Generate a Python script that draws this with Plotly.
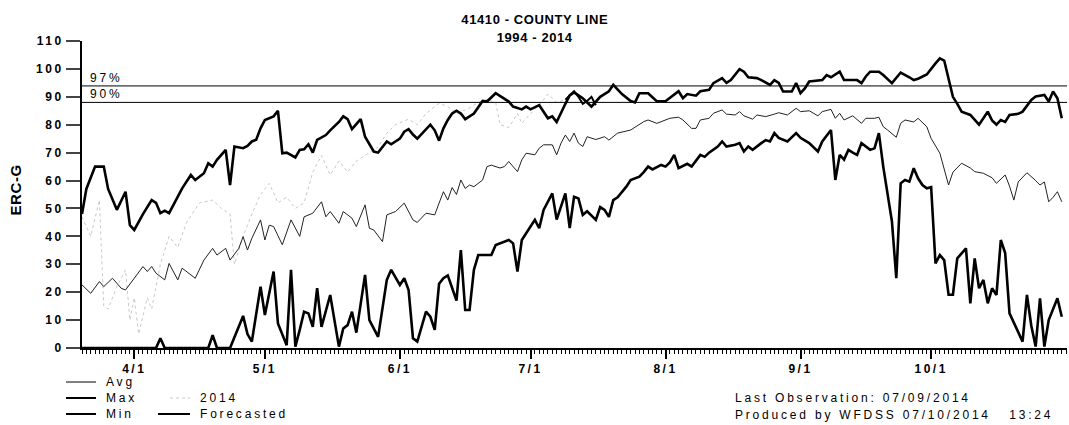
import pandas as pd
import plotly.graph_objects as go

# ---------------- data (day offsets relative to 2014-04-01) ----------------
base_date = "2014-04-01"

max_day = [-12, -11, -9, -7, -6, -4, -2, -1, 0, 2, 4, 5, 6, 7, 8, 11, 13, 14, 16, 17, 18, 19, 21, 22, 23,
           25, 26, 27, 28, 29, 30, 32, 33, 34, 35, 37, 38, 39, 40, 41, 42, 44, 45, 47, 48, 49, 50, 52, 53,
           55, 56, 58, 59, 61, 62, 63, 64, 65, 68, 69, 70, 71, 72, 73, 74, 75, 76, 78, 80, 81, 83, 84, 86,
           87, 89, 90, 91, 93, 94, 95, 96, 97, 99, 100, 101, 103, 105, 107, 109, 110, 112, 114, 115, 116,
           118, 120, 122, 124, 125, 126, 127, 129, 130, 132, 133, 135, 136, 137, 139, 140, 141, 143, 144,
           146, 147, 148, 149, 151, 152, 153, 154, 155, 158, 159, 160, 162, 163, 166, 167, 168, 169, 171,
           172, 174, 176, 178, 179, 180, 182, 184, 185, 186, 187, 188, 189, 190, 192, 194, 195, 196, 197,
           198, 199, 200, 201, 203, 204, 206, 207, 209, 210, 211, 212, 213]
max_val = [48, 57, 65, 65, 57, 49.5, 56, 44, 42.3, 48, 53, 52, 48.3, 49.2, 48.3, 57.2, 62, 60.2, 62.6, 66.2,
           65, 67.4, 71, 58.4, 72.2, 71.6, 72.4, 74, 74.6, 78.7, 81.7, 83, 85, 69.8, 70, 68.3, 71, 71.2, 73,
           70, 74.6, 76.3, 78, 81, 83, 82, 78.4, 82, 75.7, 70.4, 70, 74, 73, 75, 77.5, 78.4, 76.5, 75, 80, 78,
           74.3, 78.7, 81.7, 84, 85, 84, 82, 84, 88.5, 88.3, 91.3, 90.4, 88.3, 86.5, 85.5, 86.5, 85.5, 87,
           84.5, 82.3, 83, 81, 87.5, 90.5, 91.6, 89.5, 86.5, 90, 92, 94.3, 91, 88.5, 88, 91.3, 91.3, 88.4,
           88.4, 91, 92, 89.5, 91, 90.4, 92, 92.5, 94.9, 96.7, 95, 96, 99.9, 99, 97, 96.7, 96, 94.3, 96, 95,
           91.9, 91.9, 94.9, 91.3, 93, 95.5, 96, 97.8, 97, 99, 96, 96, 94.9, 97.3, 99, 99, 97.8, 94.9, 98.7,
           97, 96, 96.5, 98, 102, 103.8, 103, 96, 90, 87.5, 84.7, 83.5, 80, 82.3, 84.7, 81.5, 80, 81.7, 81,
           83.5, 83.9, 84.7, 88.9, 90.1, 90.7, 88.3, 91.9, 89.5, 82.3]

avg_day = [-12, -10, -8, -7, -5, -3, -2, 0, 2, 3, 4, 5, 7, 8, 10, 11, 14, 16, 18, 19, 21, 22, 24, 25, 26,
           27, 29, 30, 31, 32, 34, 36, 38, 39, 41, 43, 44, 45, 47, 48, 50, 51, 53, 54, 55, 57, 58, 60, 62,
           64, 65, 67, 69, 70, 71, 72, 73, 74, 75, 76, 77, 78, 80, 81, 82, 84, 85, 86, 88, 89, 90, 92, 93,
           94, 96, 97, 98, 99, 100, 101, 102, 103, 104, 106, 108, 109, 111, 114, 115, 117, 118, 120, 123,
           125, 126, 128, 129, 130, 132, 133, 135, 136, 138, 139, 140, 142, 143, 145, 147, 148, 150, 152,
           153, 155, 157, 158, 160, 161, 162, 163, 165, 167, 168, 170, 171, 172, 173, 175, 176, 177, 179,
           180, 182, 183, 185, 186, 187, 188, 190, 192, 193, 195, 197, 198, 200, 201, 202, 203, 205, 207,
           208, 209, 210, 211, 212, 213]
avg_val = [22.6, 19.6, 23.8, 22, 25, 21.4, 20.8, 25, 29.2, 27.4, 29.2, 26.8, 24.4, 30.3, 24.4, 28.6, 25,
           31.5, 35.7, 33.3, 35.7, 31.5, 35.7, 39.9, 35.1, 39.3, 45.9, 38.7, 44, 43.5, 37, 45.9, 40, 47,
           48.3, 52.4, 47, 48.9, 44.7, 48.9, 46.5, 43.5, 51.3, 42.9, 42.3, 38.1, 47.7, 48.9, 51.9, 45.9, 45,
           48.3, 47.7, 51.9, 56, 53, 57.5, 55, 60.2, 57.2, 58.4, 57.8, 60.2, 65, 65.5, 64.5, 65, 66.8, 63.2,
           67.4, 69.8, 69.2, 71.6, 72.8, 72.8, 69.2, 73.4, 76.3, 74, 77, 73.4, 72.2, 75.7, 74.7, 75.7, 74.5,
           77, 78.1, 79.2, 81.1, 81.7, 80.5, 82.3, 82.7, 81.7, 78.7, 78.7, 81.7, 82.3, 84.1, 85.3, 83.8, 83.5,
           84.7, 83.2, 82, 83.5, 82.9, 83.8, 84.3, 83.5, 85.9, 84.7, 85, 83.2, 84.7, 85.5, 82.3, 84.1, 81.7,
           83.2, 80.5, 82.3, 82.3, 82.7, 79.3, 78.1, 75.5, 80.5, 81.7, 81, 82.3, 79.3, 75.1, 69.8, 63.8,
           58.4, 63, 66.2, 64.5, 63.2, 62.6, 61, 59, 62, 58, 53, 59.5, 62.8, 60, 58.4, 59.5, 52.4, 54, 56, 52.4]

min_day = [-12, 5, 6, 7, 17, 18, 19, 22, 25, 26, 27, 28, 29, 30, 32, 33, 35, 36, 37, 38, 39, 40, 41, 42, 43,
           45, 47, 48, 49, 50, 51, 53, 54, 56, 58, 59, 61, 62, 63, 64, 65, 67, 68, 69, 70, 71, 72, 74, 75, 76,
           77, 78, 79, 82, 83, 86, 87, 88, 89, 90, 92, 93, 94, 96, 97, 99, 100, 101, 102, 103, 104, 106, 107,
           108, 109, 110, 111, 113, 114, 116, 117, 118, 119, 121, 122, 123, 124, 125, 127, 128, 130, 131,
           132, 134, 135, 136, 138, 139, 140, 141, 142, 144, 145, 146, 147, 148, 150, 152, 153, 155, 157,
           158, 160, 161, 162, 163, 164, 165, 166, 167, 169, 170, 171, 172, 174, 175, 176, 177, 178, 179,
           180, 181, 182, 183, 184, 185, 186, 187, 188, 189, 191, 192, 193, 194, 195, 196, 197, 198, 199,
           200, 201, 204, 205, 206, 207, 208, 209, 210, 212, 213]
min_val = [0, 0, 3.5, 0, 0, 4.6, 0, 0, 11.5, 5, 2.3, 12.4, 22, 11.8, 27.4, 8.8, 1, 28, 0.5, 6.5, 13, 12.4,
           7.6, 21.4, 7.6, 19, 0.5, 7, 8.2, 13, 5.5, 26.2, 10, 4, 24.4, 28, 22.6, 25, 20.8, 3.5, 2.3, 13, 11.2,
           6.5, 23, 25, 26, 17, 35.1, 13.6, 13.6, 28, 33.3, 33.3, 36.9, 38.7, 37.5, 27.4, 38.7, 41.1, 45.9,
           42.9, 49.5, 55.4, 46, 55.4, 43, 54.2, 53.6, 47.7, 49, 45.9, 50.5, 49.5, 47, 53, 54, 57.8, 60.2,
           61.4, 63, 65, 64, 65.6, 65, 66.5, 69.2, 64.4, 66, 65, 69.2, 68.5, 70, 72.2, 74, 72.2, 72.8, 73.4,
           70.4, 72.2, 71, 73.4, 74.5, 74, 77, 75.3, 74, 77, 75.3, 73.4, 70.4, 74, 78.1, 60.2, 69.2, 67.5, 71,
           70, 69.2, 73.4, 71, 71.6, 77, 65, 45.3, 25, 59, 60.2, 59.6, 64.4, 60.8, 58.4, 57.2, 57.6, 30.3,
           33.3, 31.5, 19.1, 19.1, 32.1, 35.7, 16, 32.1, 21.4, 24.4, 16, 21.4, 19, 38.7, 34, 12.4, 2.3, 19, 8,
           0.5, 17.8, 0.5, 10, 17.8, 11.2]

y2014_day = [-12, -10, -8, -7, -6, -4, -2, -1, 0, 1, 3, 4, 6, 8, 10, 12, 15, 18, 20, 22, 23, 25, 27, 29,
             31, 33, 35, 37, 39, 41, 43, 45, 47, 49, 51, 54, 56, 58, 60, 63, 65, 67, 70, 72, 74, 77, 79, 81,
             83, 84, 86, 88, 89, 91, 93, 95, 97, 99]
y2014_val = [47, 40, 53, 15, 14, 22, 28, 10, 18, 5, 18, 14, 30, 40, 36, 45, 52, 53, 50, 48, 30, 40, 48, 55,
             59, 52, 54, 50, 52, 63, 69, 62, 67, 63, 67, 70, 72, 77, 80, 82, 80, 84, 87.7, 86.5, 84, 86, 88,
             89, 88, 80, 79, 84, 80.5, 84, 87, 91, 88, 89]

fcst_day = [99, 100, 101, 102, 103, 104, 105, 106]
fcst_val = [89, 90.5, 92, 90, 87.5, 88.5, 90, 87]

pct_labels = ["97%", "90%"]
pct_values = [93.9, 88.0]

title_lines = ["41410 - COUNTY LINE", "1994 - 2014"]
y_title = "ERC-G"
last_obs_text = "Last Observation: 07/09/2014"
produced_text = "Produced by WFDSS 07/10/2014\u00a0\u00a0 13:24"
month_ticks = ["2014-04-01", "2014-05-01", "2014-06-01", "2014-07-01", "2014-08-01", "2014-09-01", "2014-10-01"]
month_labels = ["4/1", "5/1", "6/1", "7/1", "8/1", "9/1", "10/1"]
y_ticks = [0, 10, 20, 30, 40, 50, 60, 70, 80, 90, 100, 110]


def to_dates(days):
    return pd.Timestamp(base_date) + pd.to_timedelta(days, unit="D")


FONT = "Liberation Sans, Arial, sans-serif"
GRAY2014 = "#c8c8c8"

fig = go.Figure()
fig.add_trace(go.Scatter(x=to_dates(y2014_day), y=y2014_val, mode="lines", name="2014",
                         line=dict(color=GRAY2014, width=1, dash="dot"), showlegend=False))
fig.add_trace(go.Scatter(x=to_dates(avg_day), y=avg_val, mode="lines", name="Avg",
                         line=dict(color="#222222", width=1), showlegend=False))
fig.add_trace(go.Scatter(x=to_dates(max_day), y=max_val, mode="lines", name="Max",
                         line=dict(color="black", width=2.6), showlegend=False))
fig.add_trace(go.Scatter(x=to_dates(min_day), y=min_val, mode="lines", name="Min",
                         line=dict(color="black", width=2.6), showlegend=False))
fig.add_trace(go.Scatter(x=to_dates(fcst_day), y=fcst_val, mode="lines", name="Forecasted",
                         line=dict(color="black", width=2), showlegend=False))

shapes = []
annotations = []
for lab, val in zip(pct_labels, pct_values):
    shapes.append(dict(type="line", xref="paper", x0=0, x1=1, yref="y", y0=val, y1=val,
                       line=dict(color="black", width=1)))
    annotations.append(dict(text=lab, xref="paper", x=0.006, yref="y", y=val, xanchor="left",
                            yanchor="bottom", showarrow=False, yshift=-1,
                            font=dict(family=FONT, size=12, color="black")))


# helpers converting page pixels to paper coordinates
def px_x(px):
    return (px - 82) / 985.0


def px_y(py):
    return (348 - py) / 307.0


legend_items = [
    ("Avg", 66, 96, 382, dict(color="black", width=1)),
    ("Max", 66, 96, 398, dict(color="black", width=2)),
    ("Min", 66, 96, 414, dict(color="black", width=2)),
    ("2014", 170, 190, 398, dict(color=GRAY2014, width=1, dash="dot")),
    ("Forecasted", 158, 190, 414, dict(color="black", width=2)),
]
for lab, xa, xb, yy, ln in legend_items:
    shapes.append(dict(type="line", xref="paper", yref="paper", x0=px_x(xa), x1=px_x(xb),
                       y0=px_y(yy), y1=px_y(yy), line=ln))
    annotations.append(dict(text=lab, xref="paper", yref="paper", x=px_x(xb + 8), y=px_y(yy),
                            xanchor="left", yanchor="middle", showarrow=False,
                            font=dict(family=FONT, size=12, color="black")))

annotations.append(dict(text=last_obs_text, xref="paper", yref="paper",
                        x=px_x(733), y=px_y(398), xanchor="left", yanchor="middle", showarrow=False,
                        font=dict(family=FONT, size=12, color="black")))
annotations.append(dict(text=produced_text, xref="paper", yref="paper",
                        x=px_x(733), y=px_y(415), xanchor="left", yanchor="middle", showarrow=False,
                        font=dict(family=FONT, size=12, color="black")))
annotations.append(dict(text="<b>" + y_title + "</b>", xref="paper", yref="paper", x=px_x(15),
                        y=px_y(190), xanchor="center", yanchor="middle", textangle=-90, showarrow=False,
                        font=dict(family=FONT, size=15, color="black")))
for txt, yy in zip(title_lines, [20, 37]):
    annotations.append(dict(text="<b>" + txt + "</b>", xref="paper", yref="paper", x=px_x(534.5),
                            y=px_y(yy), xanchor="center", yanchor="middle", showarrow=False,
                            font=dict(family=FONT, size=13, color="black")))

fig.update_layout(
    width=1069, height=425,
    margin=dict(l=82, r=2, t=41, b=77),
    paper_bgcolor="white", plot_bgcolor="white",
    shapes=shapes, annotations=annotations,
    xaxis=dict(type="date", range=[to_dates([-12])[0], to_dates([214.2])[0]],
               tickmode="array", tickvals=month_ticks, ticktext=month_labels,
               showgrid=False, zeroline=False, showline=True, linecolor="black", linewidth=2,
               ticks="outside", ticklen=9, tickwidth=2, tickcolor="black",
               tickfont=dict(family=FONT, size=12, color="black", weight="bold"),
               minor=dict(tickmode="linear", tick0="2014-03-20", dtick=86400000, ticks="outside",
                          ticklen=4, tickwidth=1, tickcolor="black", showgrid=False)),
    yaxis=dict(range=[0, 110], tickmode="array", tickvals=y_ticks,
               showgrid=False, zeroline=False, showline=True, linecolor="black", linewidth=2,
               ticks="outside", ticklen=14, tickwidth=1.5, tickcolor="#444444",
               tickfont=dict(family=FONT, size=12, color="black", weight="bold")),
)

# widen letter spacing like the scanned original; keep left-anchored texts at their left edge
post_js = """
document.body.style.margin='0';
document.body.style.overflow='hidden';
var skip = %s;
document.querySelectorAll('.annotation-text').forEach(function(e){
  var t = e.textContent;
  if (skip.indexOf(t) >= 0) { e.style.letterSpacing = '0.6px'; return; }
  var b = e.getBBox();
  e.setAttribute('text-anchor', 'start');
  e.setAttribute('x', b.x);
  e.style.letterSpacing = '2.8px';
});
document.querySelectorAll('.xtick text, .ytick text').forEach(function(e){
  e.style.letterSpacing = '2.5px';
});
""" % (str(title_lines + [y_title]).replace("'", '"'))

fig.write_html("out.html", config={"displayModeBar": False}, post_script=post_js)
